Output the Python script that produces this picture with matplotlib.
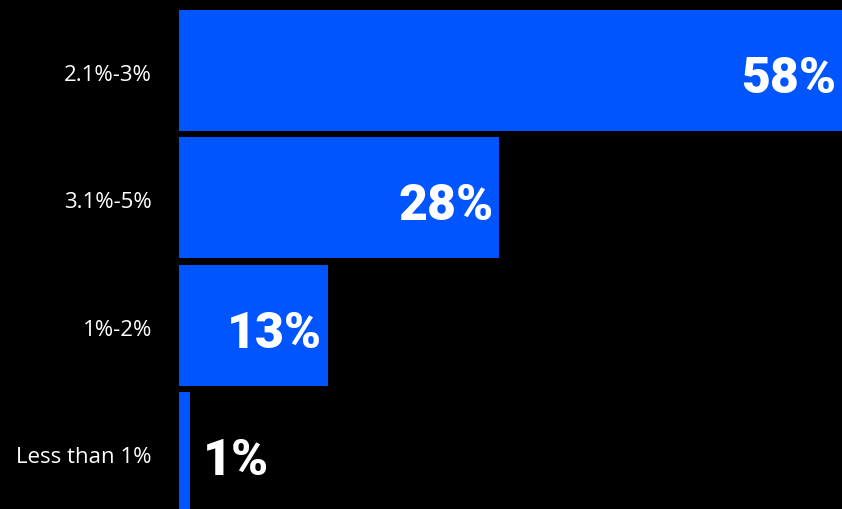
import matplotlib.pyplot as plt
from matplotlib.transforms import Affine2D

# Share of responses per range
categories = ['2.1%-3%', '3.1%-5%', '1%-2%', 'Less than 1%']
shares = [58, 28, 13, 1]
value_labels = ['58%', '28%', '13%', '1%']

bar_color = '#0055FF'

fig = plt.figure(figsize=(8.42, 5.10), dpi=100, facecolor='black')
ax = fig.add_axes([179 / 842, 0, 1 - 179 / 842, 1])
ax.set_facecolor('black')

positions = list(range(len(categories)))
ax.barh(positions, shares, height=0.95, color=bar_color)

ax.set_xlim(0, 58)
ax.set_ylim(3.44, -0.56)

ax.set_yticks(positions)
ax.set_yticklabels(categories, fontsize=16, color='white', family='Open Sans')
ax.tick_params(axis='y', length=0, pad=19.5)
for lbl in ax.get_yticklabels():
    lbl.set_va('center')
    lbl.set_transform(lbl.get_transform() + Affine2D().translate(0, -4))
ax.set_xticks([])
for side in ax.spines.values():
    side.set_visible(False)

# Value labels: inside the bar end, or just past it for short bars
for pos, val, txt in zip(positions, shares, value_labels):
    inside = val >= 5
    ax.annotate(txt, (val, pos), xytext=(-4 if inside else 9, -5.5),
                textcoords='offset points', ha='right' if inside else 'left',
                va='center', color='white', fontsize=36, family='Roboto',
                weight='black', fontstretch='condensed')

fig.savefig('out.png', dpi=100, facecolor='black')
